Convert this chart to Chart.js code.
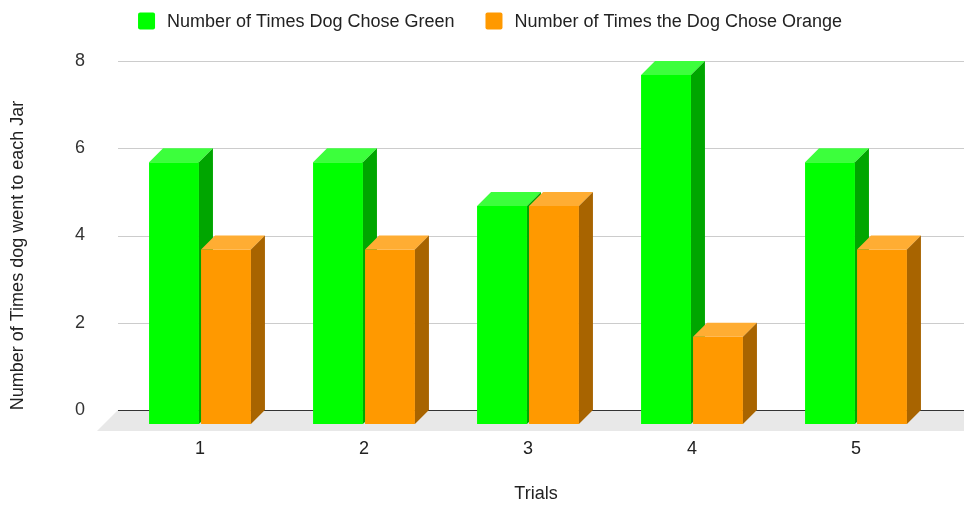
<!DOCTYPE html>
<html>
<head>
<meta charset="utf-8">
<script src="https://cdn.jsdelivr.net/npm/chart.js@4/dist/chart.umd.min.js"></script>
<style>
  html, body { margin: 0; padding: 0; background: #ffffff; }
  #wrap { width: 964px; height: 505px; }
</style>
</head>
<body>
<div id="wrap"><canvas id="chart" width="964" height="505"></canvas></div>
<script>
// Trials and how often the dog picked each jar
const trials = ['1', '2', '3', '4', '5'];
const greenChoices = [6, 6, 5, 8, 6];
const orangeChoices = [4, 4, 5, 2, 4];
const greenLabel = 'Number of Times Dog Chose Green';
const orangeLabel = 'Number of Times the Dog Chose Orange';
const xTitle = 'Trials';
const yTitle = 'Number of Times dog went to each Jar';

const FONT = '"Liberation Sans", Arial, sans-serif';
const DEPTH = 14;        // 3D depth of each bar
const FLOOR_DEPTH = 21;  // depth of the grey floor slab

const palette = [
  { front: '#00ff00', top: '#3cff3c', side: '#00a600' },
  { front: '#ff9900', top: '#ffad33', side: '#a86400' }
];

function poly(ctx, pts, fill) {
  ctx.beginPath();
  ctx.moveTo(pts[0][0], pts[0][1]);
  for (let i = 1; i < pts.length; i++) ctx.lineTo(pts[i][0], pts[i][1]);
  ctx.closePath();
  ctx.fillStyle = fill;
  ctx.fill();
}

// Floor, grid lines and extruded bars
const bars3d = {
  id: 'bars3d',
  beforeDatasetsDraw(chart) {
    const ctx = chart.ctx;
    const area = chart.chartArea;
    const yScale = chart.scales.y;
    const zeroY = yScale.getPixelForValue(0);
    const farRight = chart.width + FLOOR_DEPTH;

    ctx.save();
    // floor slab
    poly(ctx, [
      [area.left, zeroY],
      [farRight, zeroY],
      [farRight - FLOOR_DEPTH, zeroY + FLOOR_DEPTH],
      [area.left - FLOOR_DEPTH, zeroY + FLOOR_DEPTH]
    ], '#e8e8e8');

    // horizontal grid lines on the back wall
    ctx.lineWidth = 1;
    yScale.ticks.forEach(t => {
      const py = Math.round(yScale.getPixelForValue(t.value)) + 0.5;
      ctx.beginPath();
      ctx.moveTo(area.left, py);
      ctx.lineTo(chart.width, py);
      ctx.strokeStyle = t.value === 0 ? '#333333' : '#cccccc';
      ctx.stroke();
    });

    // bars, dataset by dataset
    chart.data.datasets.forEach((ds, di) => {
      const meta = chart.getDatasetMeta(di);
      const c = palette[di];
      meta.data.forEach(el => {
        const p = el.getProps(['x', 'y', 'base', 'width'], true);
        const l = p.x - p.width / 2;
        const r = p.x + p.width / 2;
        const top = p.y;
        const base = p.base;
        // front face
        poly(ctx, [[l, top + DEPTH], [r, top + DEPTH], [r, base + DEPTH], [l, base + DEPTH]], c.front);
        // top face
        poly(ctx, [[l, top + DEPTH], [l + DEPTH, top], [r + DEPTH, top], [r, top + DEPTH]], c.top);
        // side face
        poly(ctx, [[r, top + DEPTH], [r + DEPTH, top], [r + DEPTH, base], [r, base + DEPTH]], c.side);
      });
    });
    ctx.restore();
    return false;
  }
};

// Legend and axis titles
const labelsPlugin = {
  id: 'labelsPlugin',
  afterDraw(chart) {
    const ctx = chart.ctx;
    const area = chart.chartArea;
    ctx.save();

    // legend row
    ctx.font = '18px ' + FONT;
    ctx.textBaseline = 'middle';
    ctx.textAlign = 'left';
    const box = 17, boxGap = 12, itemGap = 31;
    const items = chart.data.datasets.map((ds, i) => ({ text: ds.label, color: palette[i].front, w: ctx.measureText(ds.label).width }));
    let total = 0;
    items.forEach((it, i) => { total += box + boxGap + it.w + (i < items.length - 1 ? itemGap : 0); });
    let x = chart.width / 2 + 8 - total / 2;
    const ly = 21;
    items.forEach(it => {
      ctx.fillStyle = it.color;
      ctx.beginPath();
      if (ctx.roundRect) ctx.roundRect(x, ly - box / 2, box, box, 2); else ctx.rect(x, ly - box / 2, box, box);
      ctx.fill();
      ctx.fillStyle = '#222222';
      ctx.fillText(it.text, x + box + boxGap, ly + 1);
      x += box + boxGap + it.w + itemGap;
    });

    // axis titles
    ctx.font = '18px ' + FONT;
    ctx.fillStyle = '#222222';
    ctx.textAlign = 'center';
    ctx.fillText(xTitle, (area.left + area.right) / 2 + 8, 494);
    ctx.translate(18, (area.top + area.bottom) / 2 + 20);
    ctx.rotate(-Math.PI / 2);
    ctx.fillText(yTitle, 0, 0);
    ctx.restore();
  }
};

new Chart(document.getElementById('chart'), {
  type: 'bar',
  data: {
    labels: trials,
    datasets: [
      { label: greenLabel, data: greenChoices, backgroundColor: palette[0].front },
      { label: orangeLabel, data: orangeChoices, backgroundColor: palette[1].front }
    ]
  },
  options: {
    responsive: false,
    animation: false,
    devicePixelRatio: 1,
    layout: { padding: { top: 61, right: 26, bottom: 0, left: 0 } },
    datasets: { bar: { categoryPercentage: 0.634, barPercentage: 0.96 } },
    plugins: { legend: { display: false }, tooltip: { enabled: false }, title: { display: false } },
    scales: {
      x: {
        grid: { display: false, drawTicks: false },
        border: { display: false },
        ticks: { padding: 28, color: '#222222', font: { family: FONT, size: 18 } },
        afterFit(s) { s.height = 95; }
      },
      y: {
        min: 0,
        max: 8,
        grid: { display: false, drawTicks: false },
        border: { display: false },
        ticks: { stepSize: 2, padding: 33, color: '#333333', font: { family: FONT, size: 18 } },
        afterFit(s) { s.width = 118; }
      }
    }
  },
  plugins: [bars3d, labelsPlugin]
});
</script>
</body>
</html>
